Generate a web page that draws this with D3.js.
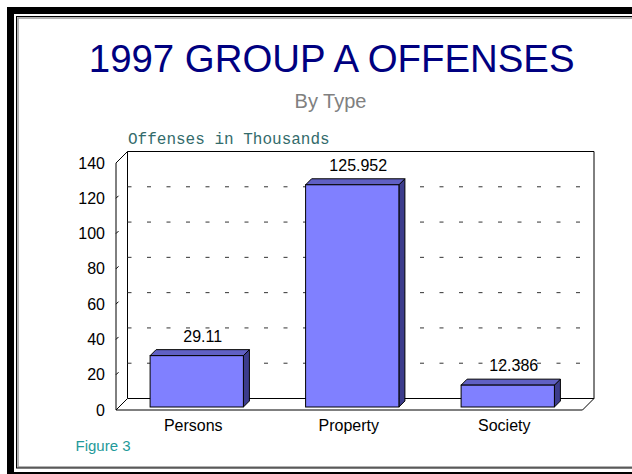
<!DOCTYPE html>
<html>
<head>
<meta charset="utf-8">
<script src="https://cdn.jsdelivr.net/npm/d3@7"></script>
<style>
  html, body { margin: 0; padding: 0; background: #fff; }
  svg { display: block; }
</style>
</head>
<body>
<svg id="chart" width="632" height="474"></svg>
<script>
// ---- data ----
const categories = ["Persons", "Property", "Society"];
const values = [29.11, 125.952, 12.386];
const valueLabels = ["29.11", "125.952", "12.386"];
const yTicks = [0, 20, 40, 60, 80, 100, 120, 140];
const gridValues = [20, 40, 60, 80, 100, 120];
const titleText = "1997 GROUP A OFFENSES";
const subtitleText = "By Type";
const yTitleText = "Offenses in Thousands";
const footText = "Figure 3";

const svg = d3.select("#chart");
const sans = "'Liberation Sans', Arial, sans-serif";
const mono = "'Liberation Mono', 'Courier New', monospace";

// ---- frame ----
svg.append("rect").attr("x", 10.5).attr("y", 10.5).attr("width", 700).attr("height", 465)
  .attr("fill", "none").attr("stroke", "#000").attr("stroke-width", 7);
svg.append("rect").attr("x", 18).attr("y", 18).attr("width", 700).attr("height", 449)
  .attr("fill", "none").attr("stroke", "#999").attr("stroke-width", 1.5);
svg.append("rect").attr("x", 16.5).attr("y", 16.5).attr("width", 700).attr("height", 451.5)
  .attr("fill", "none").attr("stroke", "#000").attr("stroke-width", 1);

// ---- scales ----
const x = d3.scaleBand().domain(categories).range([116, 582.5]).paddingInner(0).paddingOuter(0);
const y = d3.scaleLinear().domain([0, 140]).range([410, 163]);
const DX = 11.5, DY = 11.5;         // wall depth
const BO = 3, BD = 6;               // bar offset and bar depth

// ---- titles ----
svg.append("text").attr("x", 331.7).attr("y", 72).attr("text-anchor", "middle")
  .attr("font-family", sans).attr("font-size", 38.4).attr("fill", "#000080").text(titleText);
svg.append("text").attr("x", 330.5).attr("y", 108).attr("text-anchor", "middle")
  .attr("font-family", sans).attr("font-size", 20).attr("fill", "#808080").text(subtitleText);
svg.append("text").attr("x", 128).attr("y", 144)
  .attr("font-family", mono).attr("font-size", 16).attr("fill", "#336b6b").text(yTitleText);
svg.append("text").attr("x", 75.5).attr("y", 450.5)
  .attr("font-family", sans).attr("font-size", 15).attr("fill", "#1f9a9a").text(footText);

const x0 = x.range()[0], x1 = x.range()[1];
const yb = y(0), yt = y(140);

// ---- back wall ----
const wall = svg.append("g").attr("fill", "none").attr("stroke", "#000").attr("stroke-width", 1);
wall.append("path").attr("d", `M${x0 + DX},${yb - DY} V${yt - DY} H${x1 + DX} V${yb - DY}`);

// gridlines on back wall
svg.append("g").selectAll("line").data(gridValues).join("line")
  .attr("x1", x0 + DX).attr("x2", x1 + DX)
  .attr("y1", d => y(d) - DY).attr("y2", d => y(d) - DY)
  .attr("stroke", "#333").attr("stroke-width", 1).attr("stroke-dasharray", "4,15.5");

// floor
wall.append("path").attr("d",
  `M${x0},${yb} L${x0 + DX},${yb - DY} H${x1 + DX} L${x1},${yb} Z`).attr("fill", "#fff");
// left axis wall edge
wall.append("path").attr("d", `M${x0},${yb} V${yt} L${x0 + DX},${yt - DY}`);

// small depth ticks on the left axis
svg.append("g").selectAll("line").data(yTicks.slice(1, -1)).join("line")
  .attr("x1", x0).attr("y1", d => y(d))
  .attr("x2", x0 + 2.5).attr("y2", d => y(d) - 2.5)
  .attr("stroke", "#000").attr("stroke-width", 1);

// y axis labels
const yAxis = d3.axisLeft(y).tickValues(yTicks).tickSize(0).tickPadding(11).tickFormat(d3.format("d"));
const yg = svg.append("g").attr("transform", `translate(${x0},0)`).call(yAxis);
yg.select(".domain").remove();
yg.selectAll("text").attr("font-family", sans).attr("font-size", 16).attr("fill", "#000");

// x axis labels
const xAxis = d3.axisBottom(x).tickSize(0).tickPadding(9.6);
const xg = svg.append("g").attr("transform", `translate(-0.5,${yb})`).call(xAxis);
xg.select(".domain").remove();
xg.selectAll("text").attr("font-family", sans).attr("font-size", 16).attr("fill", "#000");

// ---- bars ----
const bw = x.bandwidth() * 0.6;
const bars = svg.append("g").selectAll("g").data(categories).join("g");
bars.each(function (c, i) {
  const g = d3.select(this);
  const bx = x(c) + x.bandwidth() * 0.2 + BO;
  const top = y(values[i]) - BO;
  const bot = yb - BO;
  g.append("path").attr("d",
    `M${bx + bw},${top} L${bx + bw + BD},${top - BD} V${bot - BD} L${bx + bw},${bot} Z`)
    .attr("fill", "#3c3c8c").attr("stroke", "#000").attr("stroke-width", 1);
  g.append("path").attr("d",
    `M${bx},${top} L${bx + BD},${top - BD} H${bx + bw + BD} L${bx + bw},${top} Z`)
    .attr("fill", "#6060c4").attr("stroke", "#000").attr("stroke-width", 1);
  g.append("rect").attr("x", bx).attr("y", top).attr("width", bw).attr("height", bot - top)
    .attr("fill", "#8080ff").attr("stroke", "#000").attr("stroke-width", 1);
  g.append("text").attr("x", x(c) + x.bandwidth() / 2 + 9).attr("y", y(values[i]) - 17)
    .attr("text-anchor", "middle").attr("font-family", sans).attr("font-size", 16)
    .attr("fill", "#000").text(valueLabels[i]);
});
</script>
</body>
</html>
